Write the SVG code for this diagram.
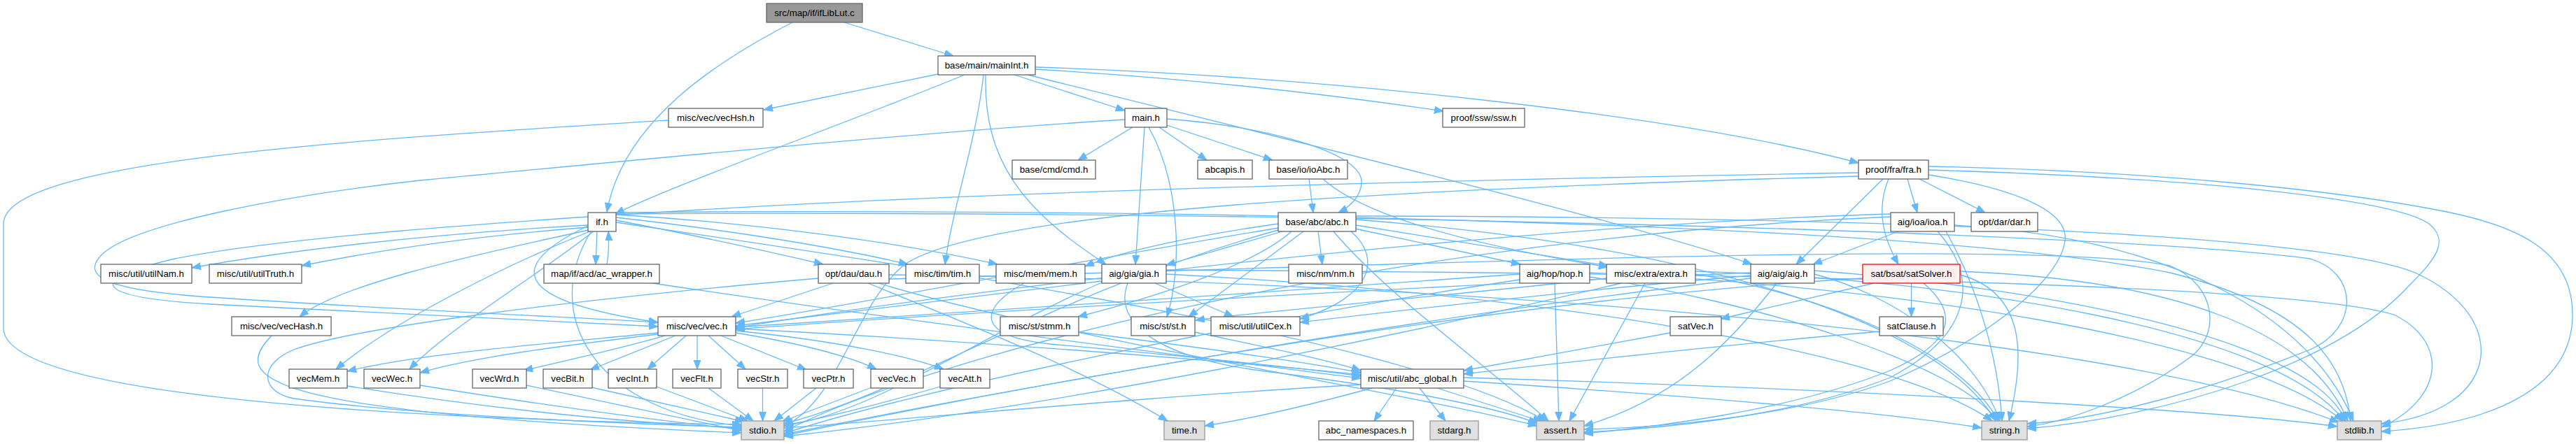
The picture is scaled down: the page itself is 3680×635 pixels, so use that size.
<svg xmlns="http://www.w3.org/2000/svg" width="3680" height="635" viewBox="0 0 3680 635">
<defs>
<marker id="a" markerWidth="14" markerHeight="11" refX="13" refY="5" orient="auto" markerUnits="userSpaceOnUse"><path d="M0,0 L13,5 L0,10 z" fill="#63b8ff" stroke="#63b8ff" stroke-width="1"/></marker>
<style>
.e path{fill:none;stroke:#63b8ff;stroke-width:1.3;marker-end:url(#a)}
.n rect{fill:#ffffff;stroke:#666666;stroke-width:1.3}
.s rect{fill:#e0e0e0;stroke:#999999;stroke-width:1.3}
.r rect{fill:#999999;stroke:#666666;stroke-width:1.3}
.h rect{fill:#fff0f0;stroke:#ff0000;stroke-width:1.3}
text{font-family:"Liberation Sans",Arial,sans-serif;font-size:13.3px;text-anchor:middle;fill:#000000}
</style>
</defs>
<rect x="0" y="0" width="3680" height="635" fill="#ffffff"/>
<g id="connectors" class="e">
<path d="M1132,32 C1020,90 890,175 867,303"/>
<path d="M1206,32 L1362,80"/>
<path d="M1340,106 L1091,157"/>
<path d="M1378,107 C1200,180 960,265 879,306"/>
<path d="M1405,107 C1395,200 1360,300 1350,378"/>
<path d="M1408,107 C1405,230 1460,300 1580,378"/>
<path d="M1449,107 L1607,158"/>
<path d="M1468,107 C1800,190 2300,310 2503,378"/>
<path d="M1479,99 C1700,112 1900,135 2062,159"/>
<path d="M1479,96 C1900,110 2400,165 2655,233"/>
<path d="M955,172 C500,200 5,230 5,320 L5,470 C8,570 600,600 1059,607"/>
<path d="M1607,171 C1300,190 900,230 600,258 C400,280 200,320 150,360 C110,395 150,415 300,425 C600,445 850,455 940,461"/>
<path d="M1618,182 L1540,229"/>
<path d="M1656,182 L1724,229"/>
<path d="M1667,179 L1818,229"/>
<path d="M1635,182 L1622,378"/>
<path d="M1641,182 C1685,260 1690,380 1667,453"/>
<path d="M1667,170 C1800,180 1940,215 1945,258 C1946,280 1928,296 1912,304"/>
<path d="M1870,256 L1876,304"/>
<path d="M1890,256 C1950,310 2100,350 2297,382"/>
<path d="M2655,247 C2200,255 1500,270 1000,300 C700,318 400,340 250,370 C120,400 130,425 300,435 C600,452 850,462 940,467"/>
<path d="M2725,256 L2739,304"/>
<path d="M2742,256 L2836,304"/>
<path d="M2690,256 L2566,378"/>
<path d="M2698,256 C2680,300 2690,340 2712,378"/>
<path d="M2655,252 C2000,270 1400,300 1290,380 C1220,440 1200,570 1120,610"/>
<path d="M2755,238 C3100,245 3350,275 3480,300 C3600,322 3675,360 3675,450 C3675,560 3550,608 3402,617"/>
<path d="M2755,243 C3150,255 3420,285 3470,320 C3500,345 3480,370 3440,410 C3340,520 3100,595 2896,613"/>
<path d="M2755,250 C2880,270 2945,300 2950,335 C2955,390 2850,480 2700,545 C2550,600 2350,612 2263,614"/>
<path d="M2712,331 L2590,378"/>
<path d="M2768,331 C2830,400 2815,480 2700,540 C2550,600 2350,614 2263,618"/>
<path d="M2780,331 C2830,420 2855,520 2860,602"/>
<path d="M2792,322 C3100,340 3300,450 3362,602"/>
<path d="M2701,310 C2000,340 1350,500 1120,617"/>
<path d="M2701,306 C2200,320 1400,410 1051,469"/>
<path d="M840,322 C600,335 400,360 274,383"/>
<path d="M840,325 C650,340 520,362 431,380"/>
<path d="M841,329 C650,370 480,410 428,453"/>
<path d="M845,330 C720,380 560,460 480,528"/>
<path d="M849,330 C760,400 640,470 585,528"/>
<path d="M853,330 L851,378"/>
<path d="M867,378 C870,360 870,345 869,331"/>
<path d="M842,322 C720,380 730,430 940,461"/>
<path d="M880,307 C1100,320 1300,350 1425,378"/>
<path d="M880,311 C1050,330 1200,355 1297,378"/>
<path d="M880,315 C1000,338 1100,360 1176,378"/>
<path d="M845,330 C770,450 850,590 1059,609"/>
<path d="M880,304 C1500,298 2700,310 3100,390 C3300,440 3350,520 3358,602"/>
<path d="M880,306 C1800,300 3000,330 3300,370 C3370,390 3370,470 3300,500 C3150,560 3000,600 2896,606"/>
<path d="M880,318 C1300,380 2000,480 2208,602"/>
<path d="M932,405 C1300,460 1700,510 1944,541"/>
<path d="M940,476 C800,490 600,505 496,531"/>
<path d="M940,478 C800,495 680,510 600,533"/>
<path d="M950,480 C880,500 790,520 748,530"/>
<path d="M965,480 L843,529"/>
<path d="M980,480 L925,528"/>
<path d="M996,480 L996,528"/>
<path d="M1012,480 L1065,528"/>
<path d="M1030,480 L1152,529"/>
<path d="M1051,476 C1150,492 1220,512 1252,528"/>
<path d="M1051,473 C1200,488 1300,510 1348,528"/>
<path d="M1051,470 C1400,488 1800,520 1944,536"/>
<path d="M496,552 C700,585 900,605 1059,612"/>
<path d="M600,551 C800,583 950,603 1059,614"/>
<path d="M752,551 L1059,616"/>
<path d="M845,554 L1063,603"/>
<path d="M938,553 L1068,602"/>
<path d="M1012,555 L1076,602"/>
<path d="M1089.5,555 L1089.5,602"/>
<path d="M1166,555 L1106,602"/>
<path d="M1248,553 L1117,603"/>
<path d="M1343,553 C1250,580 1160,602 1120,608"/>
<path d="M388,480 C330,540 360,590 1059,619"/>
<path d="M1944,550 C1600,570 1300,600 1120,612"/>
<path d="M1960,555 C1850,585 1780,600 1721,609"/>
<path d="M1995,555 L1963,602"/>
<path d="M2028,555 L2065,602"/>
<path d="M2053,555 L2203,603"/>
<path d="M2091,545 C2400,565 2700,590 2831,612"/>
<path d="M2091,540 C2700,558 3200,590 3339,610"/>
<path d="M1190,405 L1045,453"/>
<path d="M1169,398 C800,430 500,470 420,500 C370,520 370,560 420,570 C600,595 900,606 1059,611"/>
<path d="M1240,405 C1400,470 1550,530 1668,602"/>
<path d="M1255,405 C1500,480 2000,560 2196,609"/>
<path d="M1270,399 C2000,380 2900,340 3100,380 C3170,410 3170,480 3130,510 C3050,570 2950,604 2896,610"/>
<path d="M1270,393 C2000,400 3000,470 3341,604"/>
<path d="M1463,405 C1400,440 1390,480 1500,492 C1700,510 1850,525 1944,538"/>
<path d="M1574,402 C1350,430 1150,455 1051,466"/>
<path d="M1650,405 L1762,453"/>
<path d="M1611,405 C1590,460 1650,510 1800,530 C2000,555 2150,585 2196,606"/>
<path d="M1574,404 C1400,480 1250,590 1120,609"/>
<path d="M1666,386 C2300,390 3250,400 3420,450 C3500,490 3490,570 3402,611"/>
<path d="M1666,392 C2200,420 2700,500 2846,602"/>
<path d="M1883,331 L1889,378"/>
<path d="M1936,327 L2172,378"/>
<path d="M1937,322 L2297,380"/>
<path d="M1905,331 C1980,420 2120,520 2212,602"/>
<path d="M1930,331 C1975,370 1960,425 1857,456"/>
<path d="M1862,331 L1698,453"/>
<path d="M1845,331 C1790,380 1650,425 1540,453"/>
<path d="M1832,331 L1666,379"/>
<path d="M1826,320 C1700,338 1600,360 1550,381"/>
<path d="M1826,326 C1500,380 1200,440 1051,462"/>
<path d="M1826,329 C1500,420 1300,560 1120,606"/>
<path d="M1937,309 C2600,310 3300,330 3450,390 C3560,440 3570,530 3500,575 C3470,595 3430,603 3402,606"/>
<path d="M1937,314 C2400,350 2760,450 2851,602"/>
<path d="M1707,475 C1800,495 1900,515 1944,530"/>
<path d="M1541,475 C1700,495 1850,515 1944,533"/>
<path d="M2221,405 L2227,602"/>
<path d="M2171,392 C1800,420 1300,450 1051,468"/>
<path d="M2171,400 C1800,455 1300,560 1120,620"/>
<path d="M2271,396 C2500,430 2800,520 2853,602"/>
<path d="M2271,390 C2700,410 3200,480 3347,602"/>
<path d="M2350,405 L2242,602"/>
<path d="M2295,398 C2000,430 1800,445 1708,458"/>
<path d="M2316,405 C2000,480 1500,585 1120,624"/>
<path d="M2422,392 C2600,420 2800,500 2855,602"/>
<path d="M2422,388 C2800,400 3250,470 3349,602"/>
<path d="M2501,398 C2000,455 1400,565 1120,621"/>
<path d="M2538,405 C2480,480 2400,570 2263,609"/>
<path d="M2501,390 C2000,410 1300,452 1051,471"/>
<path d="M2501,394 C2200,420 1950,450 1857,461"/>
<path d="M2592,392 C2700,420 2820,500 2857,602"/>
<path d="M2592,387 C2900,410 3300,480 3351,602"/>
<path d="M2677,405 L2458,456"/>
<path d="M2730.5,405 L2730.5,453"/>
<path d="M2748,405 C2800,450 2790,490 2700,530 C2550,590 2350,612 2263,620"/>
<path d="M2800,393 C2900,420 2890,520 2870,602"/>
<path d="M2800,388 C3100,400 3300,470 3354,602"/>
<path d="M2661,398 C2100,430 1400,565 1120,623"/>
<path d="M2386,476 C2250,500 2150,520 2091,530"/>
<path d="M2685,474 C2500,490 2200,522 2091,535"/>
</g>
<g id="node_root" class="r"><rect x="1095" y="5" width="137" height="27"/><text x="1163.5" y="23">src/map/if/ifLibLut.c</text></g>
<g id="node_if" class="n"><rect x="840" y="304" width="40" height="27"/><text x="860" y="322">if.h</text></g>
<g id="node_mainInt" class="n"><rect x="1340" y="80" width="139" height="27"/><text x="1409.5" y="98">base/main/mainInt.h</text></g>
<g id="node_vecHsh" class="n"><rect x="955" y="155" width="135" height="27"/><text x="1022.5" y="173">misc/vec/vecHsh.h</text></g>
<g id="node_main" class="n"><rect x="1607" y="155" width="60" height="27"/><text x="1637" y="173">main.h</text></g>
<g id="node_ssw" class="n"><rect x="2061" y="155" width="117" height="27"/><text x="2119.5" y="173">proof/ssw/ssw.h</text></g>
<g id="node_cmd" class="n"><rect x="1446" y="229" width="119" height="27"/><text x="1505.5" y="247">base/cmd/cmd.h</text></g>
<g id="node_abcapis" class="n"><rect x="1711" y="229" width="78" height="27"/><text x="1750" y="247">abcapis.h</text></g>
<g id="node_ioAbc" class="n"><rect x="1813" y="229" width="112" height="27"/><text x="1869" y="247">base/io/ioAbc.h</text></g>
<g id="node_fra" class="n"><rect x="2655" y="229" width="100" height="27"/><text x="2705" y="247">proof/fra/fra.h</text></g>
<g id="node_abc" class="n"><rect x="1826" y="304" width="111" height="27"/><text x="1881.5" y="322">base/abc/abc.h</text></g>
<g id="node_ioa" class="n"><rect x="2701" y="304" width="91" height="27"/><text x="2746.5" y="322">aig/ioa/ioa.h</text></g>
<g id="node_dar" class="n"><rect x="2816" y="304" width="95" height="27"/><text x="2863.5" y="322">opt/dar/dar.h</text></g>
<g id="node_utilNam" class="n"><rect x="144" y="378" width="130" height="27"/><text x="209" y="396">misc/util/utilNam.h</text></g>
<g id="node_utilTruth" class="n"><rect x="299" y="378" width="132" height="27"/><text x="365" y="396">misc/util/utilTruth.h</text></g>
<g id="node_acw" class="n"><rect x="777" y="378" width="165" height="27"/><text x="859.5" y="396">map/if/acd/ac_wrapper.h</text></g>
<g id="node_dau" class="n"><rect x="1169" y="378" width="101" height="27"/><text x="1219.5" y="396">opt/dau/dau.h</text></g>
<g id="node_tim" class="n"><rect x="1294" y="378" width="105" height="27"/><text x="1346.5" y="396">misc/tim/tim.h</text></g>
<g id="node_mem" class="n"><rect x="1423" y="378" width="127" height="27"/><text x="1486.5" y="396">misc/mem/mem.h</text></g>
<g id="node_gia" class="n"><rect x="1574" y="378" width="92" height="27"/><text x="1620" y="396">aig/gia/gia.h</text></g>
<g id="node_nm" class="n"><rect x="1841" y="378" width="105" height="27"/><text x="1893.5" y="396">misc/nm/nm.h</text></g>
<g id="node_hop" class="n"><rect x="2171" y="378" width="100" height="27"/><text x="2221" y="396">aig/hop/hop.h</text></g>
<g id="node_extra" class="n"><rect x="2295" y="378" width="127" height="27"/><text x="2358.5" y="396">misc/extra/extra.h</text></g>
<g id="node_aig" class="n"><rect x="2501" y="378" width="91" height="27"/><text x="2546.5" y="396">aig/aig/aig.h</text></g>
<g id="node_satSolver" class="h"><rect x="2661" y="378" width="139" height="27"/><text x="2730.5" y="396">sat/bsat/satSolver.h</text></g>
<g id="node_vecHash" class="n"><rect x="331" y="453" width="142" height="27"/><text x="402" y="471">misc/vec/vecHash.h</text></g>
<g id="node_vec" class="n"><rect x="940" y="453" width="111" height="27"/><text x="995.5" y="471">misc/vec/vec.h</text></g>
<g id="node_stmm" class="n"><rect x="1429" y="453" width="112" height="27"/><text x="1485" y="471">misc/st/stmm.h</text></g>
<g id="node_st" class="n"><rect x="1616" y="453" width="91" height="27"/><text x="1661.5" y="471">misc/st/st.h</text></g>
<g id="node_utilCex" class="n"><rect x="1730" y="453" width="127" height="27"/><text x="1793.5" y="471">misc/util/utilCex.h</text></g>
<g id="node_satVec" class="n"><rect x="2386" y="453" width="73" height="27"/><text x="2422.5" y="471">satVec.h</text></g>
<g id="node_satClause" class="n"><rect x="2685" y="453" width="91" height="27"/><text x="2730.5" y="471">satClause.h</text></g>
<g id="node_vecMem" class="n"><rect x="413" y="528" width="83" height="27"/><text x="454.5" y="546">vecMem.h</text></g>
<g id="node_vecWec" class="n"><rect x="520" y="528" width="80" height="27"/><text x="560" y="546">vecWec.h</text></g>
<g id="node_vecWrd" class="n"><rect x="675" y="528" width="77" height="27"/><text x="713.5" y="546">vecWrd.h</text></g>
<g id="node_vecBit" class="n"><rect x="776" y="528" width="70" height="27"/><text x="811" y="546">vecBit.h</text></g>
<g id="node_vecInt" class="n"><rect x="869" y="528" width="69" height="27"/><text x="903.5" y="546">vecInt.h</text></g>
<g id="node_vecFlt" class="n"><rect x="961" y="528" width="69" height="27"/><text x="995.5" y="546">vecFlt.h</text></g>
<g id="node_vecStr" class="n"><rect x="1054" y="528" width="71" height="27"/><text x="1089.5" y="546">vecStr.h</text></g>
<g id="node_vecPtr" class="n"><rect x="1148" y="528" width="71" height="27"/><text x="1183.5" y="546">vecPtr.h</text></g>
<g id="node_vecVec" class="n"><rect x="1244" y="528" width="75" height="27"/><text x="1281.5" y="546">vecVec.h</text></g>
<g id="node_vecAtt" class="n"><rect x="1343" y="528" width="71" height="27"/><text x="1378.5" y="546">vecAtt.h</text></g>
<g id="node_abc_global" class="n"><rect x="1944" y="528" width="147" height="27"/><text x="2017.5" y="546">misc/util/abc_global.h</text></g>
<g id="node_stdio" class="s"><rect x="1059" y="602" width="61" height="27"/><text x="1089.5" y="620">stdio.h</text></g>
<g id="node_time" class="s"><rect x="1663" y="602" width="58" height="27"/><text x="1692" y="620">time.h</text></g>
<g id="node_abc_namespaces" class="n"><rect x="1884" y="602" width="135" height="27"/><text x="1951.5" y="620">abc_namespaces.h</text></g>
<g id="node_stdarg" class="s"><rect x="2043" y="602" width="69" height="27"/><text x="2077.5" y="620">stdarg.h</text></g>
<g id="node_assert" class="s"><rect x="2195" y="602" width="68" height="27"/><text x="2229" y="620">assert.h</text></g>
<g id="node_string" class="s"><rect x="2831" y="602" width="65" height="27"/><text x="2863.5" y="620">string.h</text></g>
<g id="node_stdlib" class="s"><rect x="3339" y="602" width="63" height="27"/><text x="3370.5" y="620">stdlib.h</text></g>
</svg>
